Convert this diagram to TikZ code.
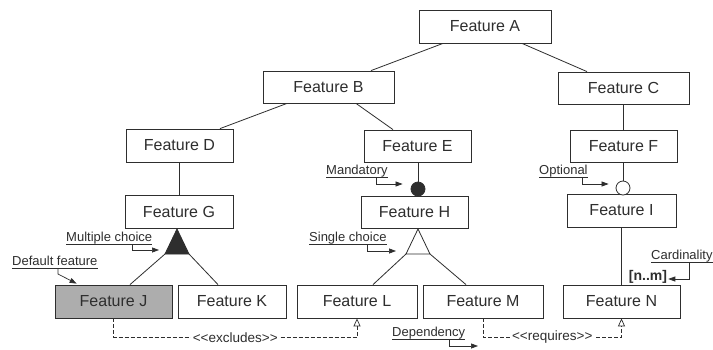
\documentclass[tikz,border=0pt]{standalone}
\usepackage{fontspec}
\setmainfont{Liberation Sans}
\usetikzlibrary{arrows.meta,shadows}

\definecolor{ink}{HTML}{2E2E2E}
\definecolor{pale}{HTML}{ADADAD}

\begin{document}
\begin{tikzpicture}[x=1pt,y=-1pt,
  feat/.style={draw=ink, line width=0.8pt, fill=white, text=ink,
    font=\fontsize{16}{18}\selectfont, inner sep=0pt,
    drop shadow={shadow xshift=0.9pt, shadow yshift=-0.9pt, fill=black!55, opacity=1}},
  link/.style={draw=ink, line width=0.8pt},
  note/.style={text=ink, font=\fontsize{13}{15}\selectfont, inner sep=0pt, anchor=base west},
  uline/.style={draw=ink, line width=0.6pt},
  pointer/.style={draw=ink, line width=0.7pt, -{Triangle[length=7pt,width=5pt]}},
  dep/.style={draw=ink, line width=0.7pt, dash pattern=on 4pt off 2pt,
    -{Triangle[open,length=8pt,width=7pt]}},
  deplabel/.style={fill=white, text=ink, font=\fontsize{13.5}{15}\selectfont,
    inner xsep=1.5pt, inner ysep=1pt}
]
\fill[white] (0,0) rectangle (713,349);
\useasboundingbox (0,0) rectangle (713,349);

% feature boxes
\node[feat, minimum width=132pt, minimum height=33pt] (A) at (485,26.5) {Feature A};
\node[feat, minimum width=131pt, minimum height=32pt] (B) at (328.5,87) {Feature B};
\node[feat, minimum width=131pt, minimum height=32pt] (C) at (623.5,88) {Feature C};
\node[feat, minimum width=107pt, minimum height=33pt] (D) at (179.5,145.5) {Feature D};
\node[feat, minimum width=107pt, minimum height=32pt] (E) at (417.5,146) {Feature E};
\node[feat, minimum width=107pt, minimum height=32pt] (F) at (623.5,146) {Feature F};
\node[feat, minimum width=108pt, minimum height=33pt] (G) at (179,211.5) {Feature G};
\node[feat, minimum width=107pt, minimum height=32pt] (H) at (414.5,212) {Feature H};
\node[feat, minimum width=109pt, minimum height=33pt] (I) at (621.5,210.5) {Feature I};
\node[feat, fill=pale, minimum width=117pt, minimum height=33pt] (J) at (113.5,301.5) {Feature J};
\node[feat, minimum width=108pt, minimum height=33pt] (K) at (232,301.5) {Feature K};
\node[feat, minimum width=120pt, minimum height=33pt] (L) at (357,301.5) {Feature L};
\node[feat, minimum width=120pt, minimum height=33pt] (M) at (483,301.5) {Feature M};
\node[feat, minimum width=117pt, minimum height=33pt] (N) at (621.5,301.5) {Feature N};

% tree edges
\draw[link] ([xshift=-42pt]A.south) -- ([xshift=42.5pt]B.north);
\draw[link] ([xshift=37pt]A.south) -- ([xshift=-36.5pt]C.north);
\draw[link] ([xshift=-41.5pt]B.south) -- ([xshift=40.5pt]D.north);
\draw[link] ([xshift=27.5pt]B.south) -- ([xshift=-24.5pt]E.north);
\draw[link] (C.south) -- (F.north);
\draw[link] (G.north |- D.south) -- (G.north);
\draw[link] (I.south) -- (N.north);

% mandatory and optional markers
\node[circle, draw=ink, fill=ink, line width=0.8pt, minimum size=14pt, inner sep=0pt] (mand) at (418,189) {};
\draw[link] (mand.north |- E.south) -- (mand.north);
\node[circle, draw=ink, fill=white, line width=0.8pt, minimum size=14pt, inner sep=0pt] (opt) at (623,188) {};
\draw[link] (opt.north |- F.south) -- (opt.north);

% multiple choice group (filled)
\coordinate (mc) at (177,229);
\coordinate (mcL) at (165,254);
\coordinate (mcR) at (189,254);
\filldraw[ink, line width=0.8pt] (mc) -- (mcL) -- (mcR) -- cycle;
\draw[link] (mcL) -- ([xshift=16.5pt]J.north);
\draw[link] (mcR) -- ([xshift=-14pt]K.north);

% single choice group (open)
\coordinate (sc) at (418,229);
\coordinate (scL) at (406,254);
\coordinate (scR) at (430,254);
\draw[link, fill=white] (sc) -- (scL) -- (scR) -- cycle;
\draw[link] (scL) -- ([xshift=16pt]L.north);
\draw[link] (scR) -- ([xshift=-17pt]M.north);

% cardinality
\node[text=ink, font=\bfseries\fontsize{14}{16}\selectfont, inner sep=0pt] (nm) at (648,277) {[n..m]};

% cross-tree dependencies
\draw[dep] (J.south) -- ([yshift=-19pt]J.south) -| node[deplabel, pos=0.25] {<{}<excludes>{}>} (L.south);
\draw[dep] (M.south) -- ([yshift=-19pt]M.south) -| node[deplabel, pos=0.25] {<{}<requires>{}>} (N.south);

% annotation labels
\node[note] (mcnote) at (66,241.5) {Multiple choice};
\node[note] (dfnote) at (12,265.5) {Default feature};
\node[note] (scnote) at (309,241.5) {Single choice};
\node[note] (mdnote) at (326,174.5) {Mandatory};
\node[note] (opnote) at (539,174.5) {Optional};
\node[note] (cdnote) at (651,259.5) {Cardinality};
\node[note] (dpnote) at (392,336.5) {Dependency};
\foreach \n in {mcnote,dfnote,scnote,mdnote,opnote,cdnote,dpnote}
  \draw[uline] ([yshift=-2.5pt]\n.base west) -- ([yshift=-2.5pt]\n.base east);

% annotation pointers
\coordinate (mcin) at (159,250);
\coordinate (scin) at (396,251);
\coordinate (dpin) at (478,346);
\draw[pointer] ([xshift=66pt,yshift=-2.5pt]mcnote.base west) |- (mcin);
\draw[pointer] ([xshift=46pt,yshift=-2.5pt]dfnote.base west) -- ++(0,6) -- ([xshift=22pt,yshift=1pt]J.north west);
\draw[pointer] ([xshift=58pt,yshift=-2.5pt]scnote.base west) |- (scin);
\draw[pointer] ([xshift=50pt,yshift=-2.5pt]mdnote.base west) |- ([xshift=-8pt,yshift=5pt]mand.west);
\draw[pointer] ([xshift=43pt,yshift=-2.5pt]opnote.base west) |- ([xshift=-7pt,yshift=4pt]opt.west);
\draw[pointer] ([xshift=38pt,yshift=-2.5pt]cdnote.base west) |- ([xshift=1pt,yshift=-2pt]nm.east);
\draw[pointer] ([xshift=57pt,yshift=-2.5pt]dpnote.base west) |- (dpin);
\end{tikzpicture}
\end{document}
